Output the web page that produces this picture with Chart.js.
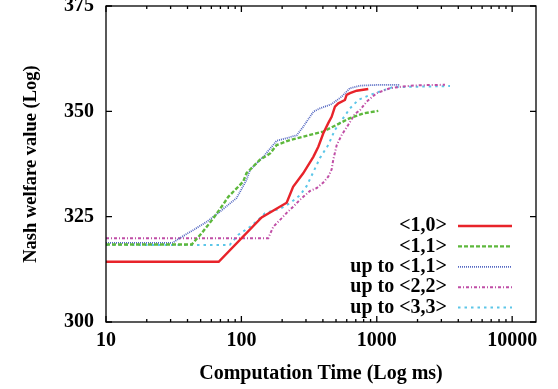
<!DOCTYPE html>
<html lang="en">

<head>
  <meta charset="UTF-8">
  <title>Nash welfare value vs computation time</title>
  <script src="https://cdn.jsdelivr.net/npm/chart.js"></script>
  <style>
    body { margin: 0; background: #fff; }
  </style>
</head>

<body>
  <canvas id="myChart" width="558" height="389"></canvas>
</body>

</html>
<script>
  // values (x = ms, y = Nash welfare)
  const seriesNames = ['<1,0>', '<1,1>', 'up to <1,1>', 'up to <2,2>', 'up to <3,3>'];

  const s10X = [10, 68, 141, 216, 241, 286, 340, 370, 403, 438, 464, 491, 520, 582, 599, 634, 711, 865];
  const s10Y = [314.3, 314.3, 324.8, 328.3, 332.1, 335.3, 339.2, 341.6, 344.8, 347.2, 348.7, 351.1, 351.9, 352.7, 353.9, 354.3, 354.9, 355.3];

  const s11X = [10, 43, 51, 62, 73, 80, 103, 109, 137, 163, 182, 229, 321, 403, 506, 634, 795, 1026];
  const s11Y = [318.4, 318.4, 321.1, 324.6, 327.8, 329.7, 333.3, 335.3, 338.5, 340.0, 342.0, 343.2, 344.4, 345.2, 346.8, 348.4, 349.5, 350.1];

  const upTo11X = [10, 31, 35, 44, 55.5, 69.5, 92, 109, 116, 145, 182, 256, 287, 340, 380, 464, 551, 634, 752, 1056, 1483];
  const upTo11Y = [318.8, 318.8, 319.9, 321.8, 323.8, 326.2, 329.4, 333.7, 336.1, 339.2, 343.0, 344.3, 346.4, 349.9, 350.7, 351.7, 353.5, 355.5, 356.1, 356.3, 356.3];

  const upTo22X = [10, 158, 172, 198, 216, 242, 271, 321, 360, 403, 438, 464, 477, 506, 551, 616, 690, 752, 842, 997, 1252, 1664, 2085, 3190];
  const upTo22Y = [319.9, 319.9, 322.6, 324.6, 325.9, 327.4, 329.0, 331.1, 331.8, 333.1, 334.5, 336.2, 338.5, 342.0, 344.4, 346.8, 349.4, 350.3, 352.3, 354.3, 355.5, 356.0, 356.2, 356.3];

  const upTo33X = [10, 82, 95, 116, 133, 149, 193, 229, 271, 304, 340, 380, 438, 491, 551, 634, 730, 891, 1056, 1325, 1664, 2337, 3475];
  const upTo33Y = [318.3, 318.3, 320.7, 322.6, 324.2, 325.8, 326.9, 328.2, 330.1, 332.3, 335.6, 338.9, 342.0, 345.6, 347.9, 350.7, 352.7, 353.9, 354.7, 355.8, 355.8, 355.9, 356.0];

  const xLabelTicks = [10, 100, 1000, 10000];
  const yTicks = [300, 325, 350, 375];

  const serif = "'Liberation Serif', 'DejaVu Serif', serif";
  const pts = (xs, ys) => xs.map((v, i) => ({ x: v, y: ys[i] }));

  const frame = {
    id: 'frame',
    afterDatasetsDraw(chart) {
      const { ctx, chartArea: a, scales: { x, y } } = chart;
      ctx.save();
      ctx.strokeStyle = '#000';
      ctx.lineWidth = 1.3;
      ctx.setLineDash([]);
      ctx.strokeRect(a.left, a.top, a.right - a.left, a.bottom - a.top);
      ctx.beginPath();
      yTicks.forEach(v => {
        const py = y.getPixelForValue(v);
        ctx.moveTo(a.left, py); ctx.lineTo(a.left + 6, py);
        ctx.moveTo(a.right, py); ctx.lineTo(a.right - 6, py);
      });
      for (let d = 10; d <= 10000; d *= 10) {
        for (let k = 1; k < 10; k++) {
          const v = d * k;
          if (v > x.max) break;
          const px = x.getPixelForValue(v);
          const len = k === 1 ? 6 : 3;
          ctx.moveTo(px, a.bottom); ctx.lineTo(px, a.bottom - len);
          ctx.moveTo(px, a.top); ctx.lineTo(px, a.top + len);
        }
      }
      ctx.stroke();
      ctx.restore();
    }
  };

  const legendBox = {
    id: 'legendBox',
    afterDraw(chart) {
      const ctx = chart.ctx;
      ctx.save();
      ctx.font = 'bold 20px ' + serif;
      ctx.textAlign = 'right';
      ctx.textBaseline = 'middle';
      ctx.fillStyle = '#000';
      chart.data.datasets.forEach((ds, i) => {
        const ly = 226 + i * 20.4;
        ctx.fillText(ds.label, 447, ly);
        ctx.strokeStyle = ds.borderColor;
        ctx.lineWidth = ds.borderWidth;
        ctx.setLineDash(ds.borderDash || []);
        ctx.beginPath();
        ctx.moveTo(458, ly);
        ctx.lineTo(512, ly);
        ctx.stroke();
      });
      ctx.restore();
    }
  };

  Chart.defaults.color = '#000';
  Chart.defaults.font.family = serif;

  new Chart(document.getElementById('myChart'), {
    type: 'line',
    data: {
      datasets: [{
        label: seriesNames[0],
        data: pts(s10X, s10Y),
        borderColor: '#e8232a',
        borderWidth: 2.4
      }, {
        label: seriesNames[1],
        data: pts(s11X, s11Y),
        borderColor: '#5db83c',
        borderWidth: 2.4,
        borderDash: [4, 2]
      }, {
        label: seriesNames[2],
        data: pts(upTo11X, upTo11Y),
        borderColor: '#5468c2',
        borderWidth: 1.8,
        borderDash: [1, 1]
      }, {
        label: seriesNames[3],
        data: pts(upTo22X, upTo22Y),
        borderColor: '#c04ea6',
        borderWidth: 2,
        borderDash: [3, 2, 1, 2]
      }, {
        label: seriesNames[4],
        data: pts(upTo33X, upTo33Y),
        borderColor: '#5cc6e8',
        borderWidth: 2,
        borderDash: [2.5, 4]
      }]
    },
    options: {
      responsive: false,
      animation: false,
      layout: { padding: { top: 6, right: 22, left: 0, bottom: 0 } },
      elements: { point: { radius: 0 }, line: { tension: 0, fill: false } },
      plugins: { legend: { display: false }, tooltip: { enabled: false } },
      scales: {
        x: {
          type: 'logarithmic',
          min: 10,
          max: 15000,
          grid: { display: false, drawTicks: false },
          border: { display: false },
          afterBuildTicks: s => { s.ticks = xLabelTicks.map(v => ({ value: v })); },
          afterFit: s => { s.height = 67; s.paddingLeft = 0; s.paddingRight = 0; },
          ticks: {
            autoSkip: false,
            maxRotation: 0,
            padding: 7,
            font: { size: 20, weight: 'bold' },
            callback: v => String(v)
          },
          title: {
            display: true,
            text: 'Computation Time (Log ms)',
            font: { size: 20, weight: 'bold' },
            padding: { top: 0, bottom: 3 }
          }
        },
        y: {
          min: 300,
          max: 375,
          grid: { display: false, drawTicks: false },
          border: { display: false },
          afterBuildTicks: s => { s.ticks = yTicks.map(v => ({ value: v })); },
          afterFit: s => { s.width = 106; s.paddingTop = 0; s.paddingBottom = 0; },
          ticks: {
            padding: 12,
            font: { size: 20, weight: 'bold' }
          },
          title: {
            display: true,
            text: 'Nash welfare value (Log)',
            font: { size: 18.5, weight: 'bold' },
            padding: { top: 20, bottom: 0 }
          }
        }
      }
    },
    plugins: [frame, legendBox]
  });
</script>
